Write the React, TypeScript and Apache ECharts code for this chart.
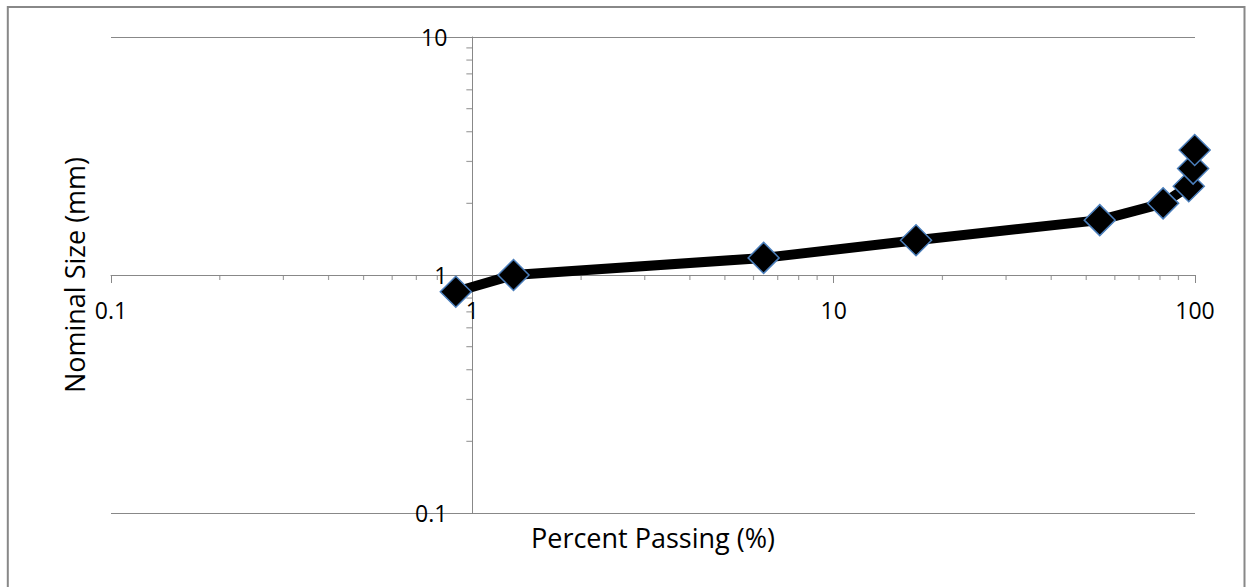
import React, { useEffect, useRef } from "react";
import * as echarts from "echarts";

// Data
const percentPassing = [0.9, 1.3, 6.4, 16.9, 54.5, 81.6, 96.1, 98.8, 99.8];
const nominalSize = [0.85, 1.0, 1.18, 1.4, 1.7, 2.0, 2.36, 2.8, 3.35];

// Axis ranges and minor tick positions (log decades)
const xRange = [0.1, 100];
const yRange = [0.1, 10];
const xMinorTicks = [0.2, 0.3, 0.4, 0.5, 0.6, 0.7, 0.8, 0.9, 2, 3, 4, 5, 6, 7, 8, 9, 20, 30, 40, 50, 60, 70, 80, 90];
const yMinorTicks = [0.2, 0.3, 0.4, 0.5, 0.6, 0.7, 0.8, 0.9, 2, 3, 4, 5, 6, 7, 8, 9];
const crossValue = 1;

const FONT = "Open Sans";
const AXIS_COLOR = "#888888";

export default function App() {
  const ref = useRef<HTMLDivElement>(null);

  useEffect(() => {
    if (!ref.current) return;
    const chart = echarts.init(ref.current, null, { renderer: "svg" });

    const gridLeft = 111;
    const gridTop = 37;
    const gridWidth = 1084;
    const gridHeight = 476;
    // axes cross at value 1, which sits in the middle of each log range
    const xOffset = -gridHeight / 2;
    const yOffset = -gridWidth / 3;

    const option: any = {
      animation: false,
      backgroundColor: "#ffffff",
      grid: {
        left: gridLeft,
        top: gridTop,
        width: gridWidth,
        height: gridHeight,
        containLabel: false,
        outerBoundsMode: "none",
      },
      xAxis: {
        type: "log",
        logBase: 10,
        min: xRange[0],
        max: xRange[1],
        position: "bottom",
        offset: xOffset,
        axisLine: { show: true, onZero: false, lineStyle: { color: AXIS_COLOR, width: 1 } },
        axisTick: { show: true, length: 8, lineStyle: { color: AXIS_COLOR, width: 1 } },
        axisLabel: { margin: 23, fontSize: 23, fontFamily: FONT, color: "#000" },
        splitLine: { show: false },
        name: "Percent Passing (%)",
        nameLocation: "middle",
        nameGap: 248.5,
        nameTextStyle: { fontSize: 27, fontFamily: FONT, color: "#000" },
      },
      yAxis: {
        type: "log",
        logBase: 10,
        min: yRange[0],
        max: yRange[1],
        position: "left",
        offset: yOffset,
        axisLine: { show: true, onZero: false, lineStyle: { color: AXIS_COLOR, width: 1 } },
        axisTick: { show: true, length: 9, lineStyle: { color: AXIS_COLOR, width: 1 } },
        axisLabel: { margin: 25, fontSize: 23, fontFamily: FONT, color: "#000" },
        splitLine: { show: true, lineStyle: { color: AXIS_COLOR, width: 1 } },
        name: "Nominal Size (mm)",
        nameLocation: "middle",
        nameGap: 384,
        nameTextStyle: { fontSize: 27, fontFamily: FONT, color: "#000" },
      },
      graphic: [
        {
          type: "rect",
          silent: true,
          shape: { x: 7.8, y: 7, width: 1236.7, height: 700 },
          style: { fill: "none", stroke: AXIS_COLOR, lineWidth: 2 },
        },
      ],
      series: [
        {
          type: "scatter",
          silent: true,
          z: 1,
          symbol: "rect",
          symbolSize: [1.2, 5],
          symbolOffset: [0, 2.5],
          itemStyle: { color: AXIS_COLOR },
          data: xMinorTicks.map((v) => [v, crossValue]),
        },
        {
          type: "scatter",
          silent: true,
          z: 1,
          symbol: "rect",
          symbolSize: [6, 1.2],
          symbolOffset: [-3, 0],
          itemStyle: { color: AXIS_COLOR },
          data: yMinorTicks.map((v) => [crossValue, v]),
        },
        {
          type: "line",
          z: 3,
          clip: false,
          data: percentPassing.map((p, i) => [p, nominalSize[i]]),
          lineStyle: { color: "#000000", width: 10 },
          symbol: "diamond",
          symbolSize: 31,
          showAllSymbol: true,
          itemStyle: { color: "#000000", borderColor: "#4A7EBB", borderWidth: 1.5 },
        },
      ],
    };

    chart.setOption(option);
    return () => chart.dispose();
  }, []);

  return (
    <div
      ref={ref}
      style={{ position: "absolute", left: 0, top: 0, width: 1252, height: 587 }}
    />
  );
}
